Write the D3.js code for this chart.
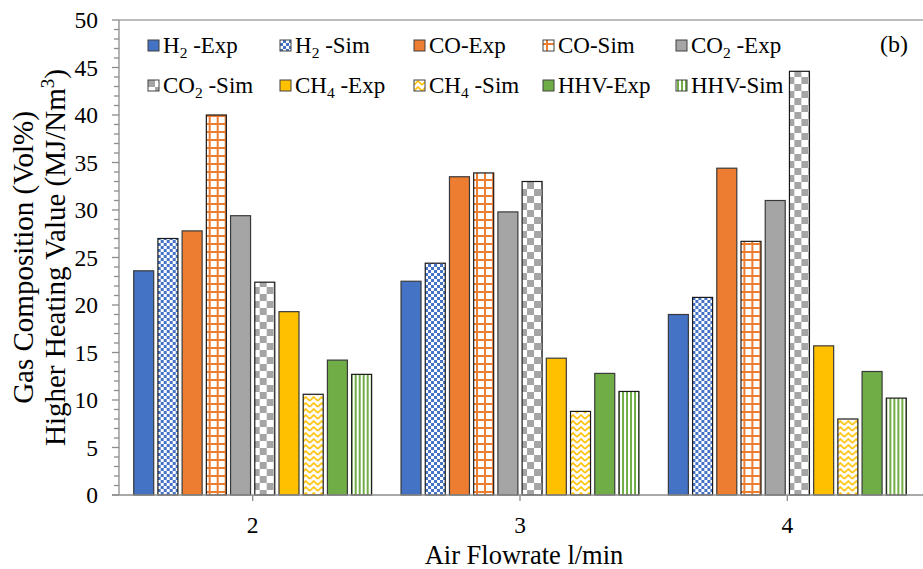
<!DOCTYPE html>
<html lang="en">
<head>
  <meta charset="UTF-8" />
  <title>Gas Composition vs Air Flowrate</title>
  <style>
    body { margin: 0; background: #ffffff; }
    svg { display: block; font-family: "Liberation Serif", "Times New Roman", serif; }
    .axis-line { stroke: #8c8c8c; stroke-width: 1.3px; }
    .tick-label { font-size: 23.5px; fill: #000; }
    .legend-text { font-size: 23px; fill: #000; }
    .title { font-size: 26.5px; fill: #000; }
    .ytitle { font-size: 29px; fill: #000; }
  </style>
  <script src="https://d3js.org/d3.v7.min.js"></script>
</head>
<body>
  <svg id="chart" width="923" height="569"></svg>
  <script>
    // data
    const flowrates = ["2", "3", "4"];
    const seriesNames = ["H2 -Exp", "H2 -Sim", "CO-Exp", "CO-Sim", "CO2 -Exp",
                         "CO2 -Sim", "CH4 -Exp", "CH4 -Sim", "HHV-Exp", "HHV-Sim"];
    const h2Exp  = [23.6, 22.5, 19.0];
    const h2Sim  = [27.0, 24.4, 20.8];
    const coExp  = [27.8, 33.5, 34.4];
    const coSim  = [40.0, 33.9, 26.7];
    const co2Exp = [29.4, 29.8, 31.0];
    const co2Sim = [22.4, 33.0, 44.6];
    const ch4Exp = [19.3, 14.4, 15.7];
    const ch4Sim = [10.6, 8.8, 8.0];
    const hhvExp = [14.2, 12.8, 13.0];
    const hhvSim = [12.7, 10.9, 10.2];
    const yTicks = [0, 5, 10, 15, 20, 25, 30, 35, 40, 45, 50];

    const seriesValues = [h2Exp, h2Sim, coExp, coSim, co2Exp, co2Sim, ch4Exp, ch4Sim, hhvExp, hhvSim];

    const svg = d3.select("#chart");
    const plotL = 119, plotR = 921, plotT = 20, plotB = 495;

    const blue = "#4472C4", orange = "#ED7D31", gray = "#A5A5A5", yellow = "#FFC000", green = "#70AD47";

    // patterns for the simulated series
    const defs = svg.append("defs");

    const pChk = defs.append("pattern").attr("id", "p-h2").attr("patternUnits", "userSpaceOnUse")
      .attr("width", 6).attr("height", 6);
    pChk.append("rect").attr("width", 6).attr("height", 6).attr("fill", blue);
    pChk.append("rect").attr("x", 0).attr("y", 0).attr("width", 3).attr("height", 3).attr("fill", "#fff");
    pChk.append("rect").attr("x", 3).attr("y", 3).attr("width", 3).attr("height", 3).attr("fill", "#fff");

    const pGrid = defs.append("pattern").attr("id", "p-co").attr("patternUnits", "userSpaceOnUse")
      .attr("width", 8).attr("height", 8);
    pGrid.append("rect").attr("width", 8).attr("height", 8).attr("fill", "#fff");
    pGrid.append("rect").attr("x", 3).attr("y", 0).attr("width", 2).attr("height", 8).attr("fill", orange);
    pGrid.append("rect").attr("x", 0).attr("y", 3).attr("width", 8).attr("height", 2).attr("fill", orange);

    const pBig = defs.append("pattern").attr("id", "p-co2").attr("patternUnits", "userSpaceOnUse")
      .attr("width", 14).attr("height", 14);
    pBig.append("rect").attr("width", 14).attr("height", 14).attr("fill", "#fff");
    pBig.append("rect").attr("x", 0).attr("y", 0).attr("width", 7).attr("height", 7).attr("fill", gray);
    pBig.append("rect").attr("x", 7).attr("y", 7).attr("width", 7).attr("height", 7).attr("fill", gray);

    const pZig = defs.append("pattern").attr("id", "p-ch4").attr("patternUnits", "userSpaceOnUse")
      .attr("width", 8).attr("height", 6);
    pZig.append("rect").attr("width", 8).attr("height", 6).attr("fill", "#fff");
    pZig.append("path").attr("d", "M0,5 L4,1 L8,5").attr("fill", "none")
      .attr("stroke", yellow).attr("stroke-width", 1.6);

    const pStripe = defs.append("pattern").attr("id", "p-hhv").attr("patternUnits", "userSpaceOnUse")
      .attr("width", 4).attr("height", 4);
    pStripe.append("rect").attr("width", 4).attr("height", 4).attr("fill", "#fff");
    pStripe.append("rect").attr("x", 1).attr("width", 2).attr("height", 4).attr("fill", green);

    const fills = [blue, "url(#p-h2)", orange, "url(#p-co)", gray,
                   "url(#p-co2)", yellow, "url(#p-ch4)", green, "url(#p-hhv)"];

    // scales
    const x0 = d3.scaleBand().domain(flowrates).range([plotL, plotR])
      .paddingInner(0.11).paddingOuter(0.055);
    const x1 = d3.scaleBand().domain(d3.range(seriesNames.length)).range([0, x0.bandwidth()])
      .paddingInner(0.174).paddingOuter(0);
    const y = d3.scaleLinear().domain([0, 50]).range([plotB, plotT]);

    // plot border top
    svg.append("line").attr("x1", plotL).attr("x2", 923).attr("y1", plotT).attr("y2", plotT)
      .attr("stroke", "#a6a6a6").attr("stroke-width", 1.3);

    // bars
    const groups = svg.append("g").selectAll("g").data(flowrates).join("g")
      .attr("transform", d => `translate(${x0(d)},0)`);
    groups.selectAll("rect")
      .data((d, ci) => seriesValues.map((vals, si) => ({ si, v: vals[ci] })))
      .join("rect")
      .attr("x", d => x1(d.si))
      .attr("y", d => y(d.v))
      .attr("width", x1.bandwidth())
      .attr("height", d => y(0) - y(d.v))
      .attr("fill", d => fills[d.si])
      .attr("stroke", d => d.si % 2 ? "#1a1a1a" : "#3a3a3a")
      .attr("stroke-width", 1.2);

    // y axis
    const yAxis = svg.append("g");
    yAxis.append("line").attr("class", "axis-line")
      .attr("x1", plotL).attr("x2", plotL).attr("y1", plotT).attr("y2", plotB);
    yAxis.selectAll(".minor").data(d3.range(0, 51, 1)).join("line")
      .attr("class", "axis-line")
      .attr("x1", d => d % 5 === 0 ? plotL - 7 : plotL - 5).attr("x2", plotL)
      .attr("y1", d => y(d)).attr("y2", d => y(d));
    yAxis.selectAll("text").data(yTicks).join("text")
      .attr("class", "tick-label")
      .attr("x", 98).attr("y", d => y(d) + 8)
      .attr("text-anchor", "end")
      .text(d => d);

    // x axis
    const xAxis = svg.append("g");
    xAxis.append("line").attr("class", "axis-line")
      .attr("x1", plotL - 7).attr("x2", 923).attr("y1", plotB).attr("y2", plotB);
    xAxis.selectAll(".tick").data(flowrates).join("line")
      .attr("class", "axis-line")
      .attr("x1", d => x0(d) + x0.bandwidth() / 2).attr("x2", d => x0(d) + x0.bandwidth() / 2)
      .attr("y1", plotB).attr("y2", plotB + 6);
    xAxis.selectAll("text").data(flowrates).join("text")
      .attr("class", "tick-label")
      .attr("x", d => x0(d) + x0.bandwidth() / 2).attr("y", 533)
      .attr("text-anchor", "middle")
      .text(d => d);

    // axis titles
    svg.append("text").attr("class", "title")
      .attr("x", (plotL + plotR) / 2 + 4).attr("y", 564).attr("text-anchor", "middle")
      .text("Air Flowrate l/min");

    const yTitle = svg.append("g").attr("transform", `translate(0,${(plotT + plotB) / 2}) rotate(-90)`);
    yTitle.append("text").attr("class", "ytitle").attr("x", 0).attr("y", 33)
      .attr("text-anchor", "middle").text("Gas Composition (Vol%)");
    const t2 = yTitle.append("text").attr("class", "ytitle").attr("x", 0).attr("y", 65)
      .attr("text-anchor", "middle");
    t2.append("tspan").text("Higher Heating Value (MJ/Nm");
    t2.append("tspan").attr("font-size", "19px").attr("dy", -11).text("3");
    t2.append("tspan").attr("dy", 11).text(")");

    // legend
    const legendCols = [148, 280, 414, 543, 676];
    const legendRows = [40, 80];
    const legend = svg.append("g").selectAll("g").data(seriesNames).join("g")
      .attr("transform", (d, i) => `translate(${legendCols[i % 5]},${legendRows[Math.floor(i / 5)]})`);
    legend.append("rect")
      .attr("width", 11).attr("height", 11)
      .attr("fill", (d, i) => fills[i])
      .attr("stroke", "#404040").attr("stroke-width", 1);
    legend.each(function (name) {
      const t = d3.select(this).append("text").attr("class", "legend-text")
        .attr("x", 15).attr("y", 13);
      const m = name.match(/^([A-Z]+?)(\d)(.*)$/);
      if (m) {
        t.append("tspan").text(m[1]);
        t.append("tspan").attr("font-size", "15.5px").attr("dy", 5).text(m[2]);
        t.append("tspan").attr("dy", -5).text(m[3]);
      } else {
        t.text(name);
      }
    });

    // panel tag
    svg.append("text").attr("class", "legend-text").style("font-size", "24px")
      .attr("x", 908).attr("y", 52).attr("text-anchor", "end").text("(b)");
  </script>
</body>
</html>
